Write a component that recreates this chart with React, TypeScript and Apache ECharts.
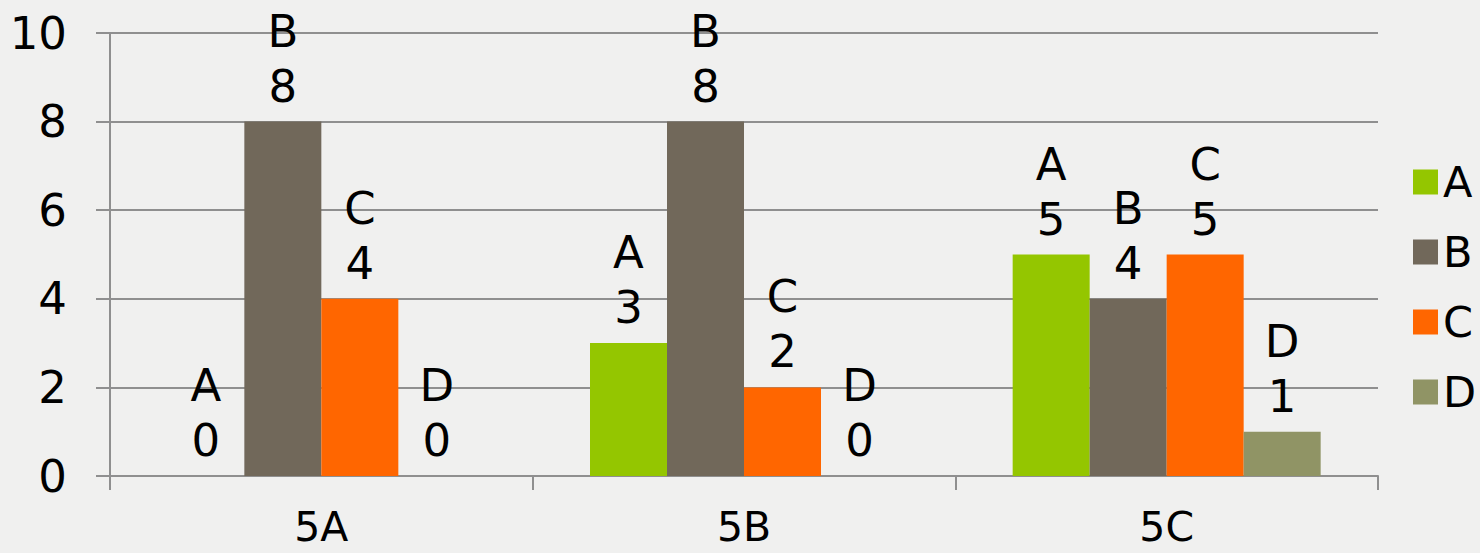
import React, { useEffect, useRef } from "react";
import * as echarts from "echarts";

const categories = ["5A", "5B", "5C"];
const seriesNames = ["A", "B", "C", "D"];
const valuesA = [0, 3, 5];
const valuesB = [8, 8, 4];
const valuesC = [4, 2, 5];
const valuesD = [0, 0, 1];
const colors = ["#94C600", "#71685A", "#FF6600", "#909465"];
const yTicks = { min: 0, max: 10, interval: 2 };

const FONT = "DejaVu Sans";
const FS = 45;

export default function App() {
  const ref = useRef<HTMLDivElement>(null);
  useEffect(() => {
    if (!ref.current) return;
    const chart = echarts.init(ref.current, null, { renderer: "svg" });
    const data = [valuesA, valuesB, valuesC, valuesD];
    chart.setOption({
      animation: false,
      backgroundColor: "#f0f0ef",
      textStyle: { fontFamily: FONT },
      grid: { left: 110, right: 102, top: 33, bottom: 77 },
      legend: {
        orient: "vertical",
        left: 1408,
        top: 154,
        itemWidth: 25,
        itemHeight: 25,
        itemGap: 24,
        icon: "rect",
        textStyle: { fontFamily: FONT, fontSize: FS - 2, color: "#000", lineHeight: 46, padding: [0, 0, 0, 0] },
        data: seriesNames,
      },
      xAxis: {
        type: "category",
        data: categories,
        axisLine: { lineStyle: { color: "#8f8f8f", width: 2 } },
        axisTick: { show: true, length: 14, lineStyle: { color: "#8f8f8f", width: 2 } },
        axisLabel: { fontFamily: FONT, fontSize: 41, color: "#000", margin: 33, lineHeight: 36 },
      },
      yAxis: {
        type: "value",
        min: yTicks.min,
        max: yTicks.max,
        interval: yTicks.interval,
        axisLine: { show: true, lineStyle: { color: "#8f8f8f", width: 2 } },
        axisTick: { show: true, length: 14, lineStyle: { color: "#8f8f8f", width: 2 } },
        splitLine: { lineStyle: { color: "#8f8f8f", width: 2 } },
        axisLabel: { fontFamily: FONT, fontSize: FS, color: "#000", margin: 43 },
      },
      series: seriesNames.map((name, i) => ({
        name,
        type: "bar",
        data: data[i],
        barWidth: 77,
        barGap: "0%",
        itemStyle: { color: colors[i] },
        label: {
          show: true,
          position: "top",
          distance: 8,
          formatter: "{a}\n{c}",
          fontFamily: FONT,
          fontSize: FS,
          lineHeight: 55,
          color: "#000",
        },
      })),
    });
    return () => chart.dispose();
  }, []);
  return <div ref={ref} style={{ width: 1480, height: 553, position: "absolute", left: 0, top: 0 }} />;
}
